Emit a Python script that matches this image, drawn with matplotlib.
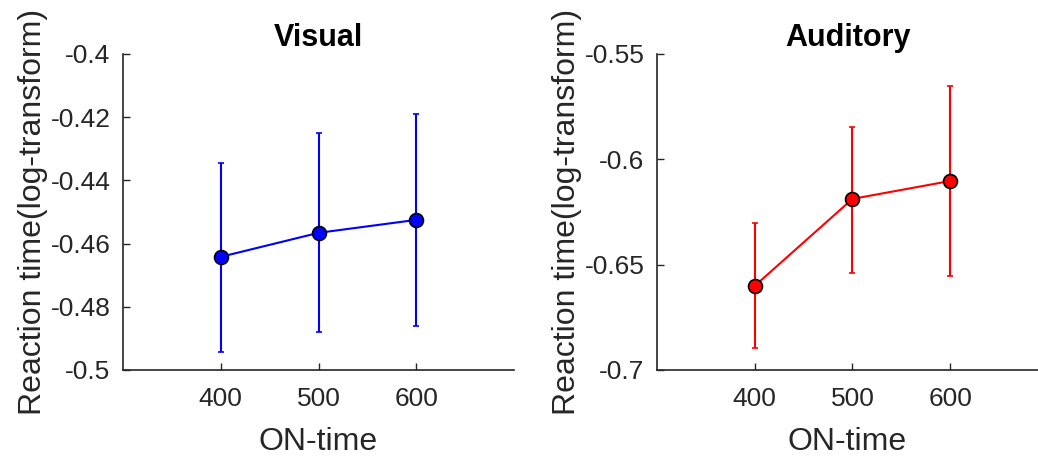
import matplotlib
matplotlib.use("Agg")
from matplotlib import pyplot as plt
import numpy as np

plt.rcParams['font.family'] = ['Liberation Sans', 'DejaVu Sans']

on_time = [400, 500, 600]

visual_mean = [-0.4642, -0.4566, -0.4525]
visual_upper = [-0.4345, -0.4250, -0.4190]
visual_lower = [-0.4943, -0.4880, -0.4861]

auditory_mean = [-0.6601, -0.6188, -0.6103]
auditory_upper = [-0.6302, -0.5846, -0.5652]
auditory_lower = [-0.6896, -0.6540, -0.6554]

dark = '#262626'

fig = plt.figure(figsize=(10.38, 4.57), dpi=100)
ax1 = fig.add_axes([0.1185, 0.1904, 0.3767, 0.6915])
ax2 = fig.add_axes([0.633, 0.1904, 0.367, 0.6915])


def draw(ax, mean, upper, lower, color, title, ylim, yticks, ylabels, xlim):
    mean = np.array(mean)
    err = [mean - np.array(lower), np.array(upper) - mean]
    ax.errorbar(on_time, mean, yerr=err, color=color, lw=1.5, capsize=2.5,
                capthick=1.5, marker='o', markersize=10, markerfacecolor=color,
                markeredgecolor='black', markeredgewidth=1.2, zorder=3)
    ax.set_xlim(*xlim)
    ax.set_ylim(*ylim)
    ax.set_xticks(on_time)
    ax.set_yticks(yticks)
    ax.set_yticklabels(ylabels)
    for s in ['top', 'right']:
        ax.spines[s].set_visible(False)
    for s in ['left', 'bottom']:
        ax.spines[s].set_color(dark)
        ax.spines[s].set_linewidth(1.2)
    ax.tick_params(direction='in', length=5, width=1, colors=dark,
                   labelsize=19)
    ax.tick_params(axis='x', pad=12)
    ax.tick_params(axis='y', pad=9)
    ax.set_title(title, fontsize=22, fontweight='bold', pad=6)
    ax.set_xlabel('ON-time', fontsize=23, color=dark, labelpad=12)
    ax.set_ylabel('Reaction time(log-transform)', fontsize=23, color=dark, labelpad=2)


draw(ax1, visual_mean, visual_upper, visual_lower, '#0000ff', 'Visual',
     (-0.5, -0.4), [-0.5, -0.48, -0.46, -0.44, -0.42, -0.4],
     ['-0.5', '-0.48', '-0.46', '-0.44', '-0.42', '-0.4'], (300, 700))
draw(ax2, auditory_mean, auditory_upper, auditory_lower, '#ff0000', 'Auditory',
     (-0.7, -0.55), [-0.7, -0.65, -0.6, -0.55],
     ['-0.7', '-0.65', '-0.6', '-0.55'], (300, 690))

fig.savefig('out.png', dpi=100)
